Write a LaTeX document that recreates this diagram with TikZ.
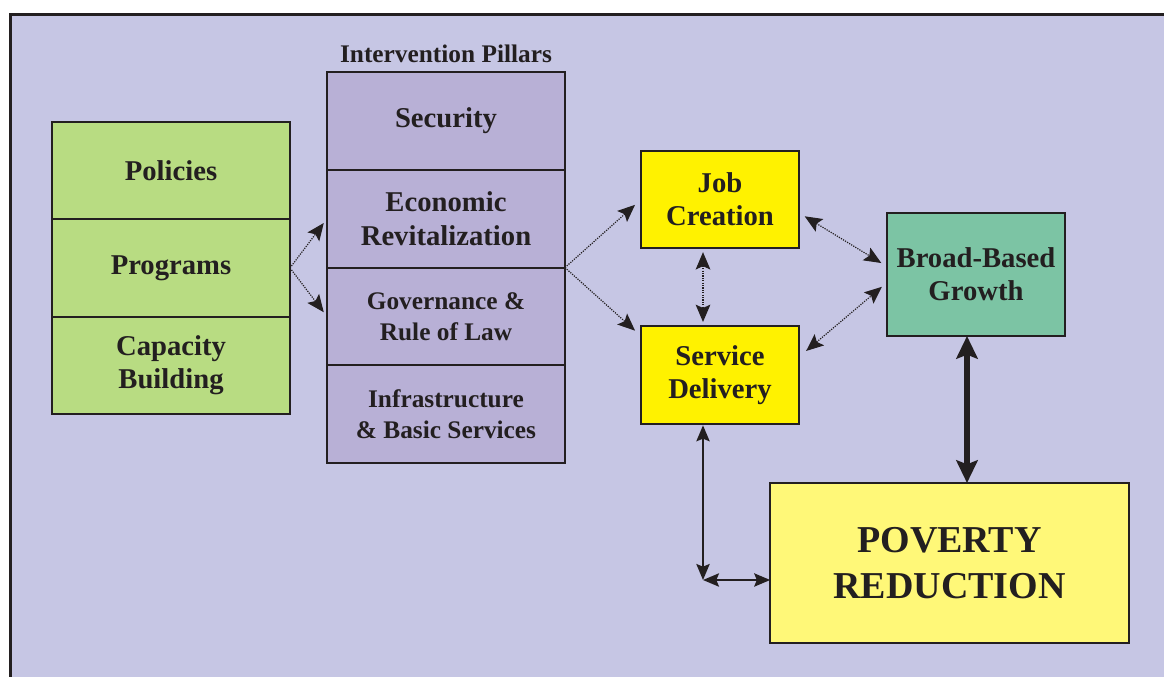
\documentclass[tikz,border=0pt]{standalone}
\usepackage{fontspec}
\setmainfont{Liberation Serif}
\usetikzlibrary{arrows.meta}
\usetikzlibrary{positioning}
\definecolor{ink}{RGB}{35,31,32}
\definecolor{bgcol}{RGB}{198,198,228}
\definecolor{greencol}{RGB}{184,220,130}
\definecolor{pillarcol}{RGB}{184,176,214}
\definecolor{yellowcol}{RGB}{255,242,0}
\definecolor{povcol}{RGB}{255,248,120}
\definecolor{growthcol}{RGB}{124,196,164}

\begin{document}
\begin{tikzpicture}[x=0.75pt,y=-0.75pt,
	every node/.style={align=center,text=ink},
	box/.style={draw=ink,line width=1.5pt,outer sep=0pt,inner sep=0pt},
	bigtext/.style={font=\bfseries\fontsize{21.5}{25}\selectfont},
	smalltext/.style={font=\bfseries\fontsize{19}{23.5}\selectfont},
	greencell/.style={box,bigtext,fill=greencol,minimum width=178.5pt,minimum height=73.1pt},
	pillarcell/.style={box,bigtext,fill=pillarcol,minimum width=178.5pt,minimum height=73.3pt},
	yellowbox/.style={box,bigtext,fill=yellowcol,minimum width=118.5pt,minimum height=73pt},
	dotarrow/.style={line width=0.9pt,draw=ink,dash pattern=on 0.9pt off 0.9pt,
		>={Stealth[length=13pt,width=11pt,inset=2.5pt]},<->},
	solidarrow/.style={line width=1.3pt,draw=ink,
		>={Stealth[length=12pt,width=10pt,inset=2pt]},<->},
	]
	\useasboundingbox (0,0) rectangle (1164,677);
	\clip (0,0) rectangle (1164,677);
	\draw[draw=ink,fill=bgcol,line width=2.25pt] (10.5,14.5) rectangle (1190,700);

	\node[greencell] (pol) at (171,170.5) {Policies};
	\node[greencell, below=0pt of pol] (prog) {Programs};
	\node[greencell, below=0pt of prog] (cap) {Capacity\\Building};

	\node[pillarcell] (sec) at (446,121) {Security};
	\node[pillarcell, below=0pt of sec] (econ) {Economic\\Revitalization};
	\node[pillarcell, smalltext, below=0pt of econ] (gov) {Governance \&\\Rule of Law};
	\node[pillarcell, smalltext, below=0pt of gov] (infra) {Infrastructure\\\& Basic Services};
	\node[smalltext, inner sep=0pt, above=7pt of sec] (pillars) {Intervention Pillars};

	\node[yellowbox] (job) at (720,199.5) {Job\\Creation};
	\node[yellowbox, minimum height=73.5pt] (serv) at (720,375) {Service\\Delivery};
	\node[box, bigtext, fill=growthcol, minimum width=133.5pt, minimum height=92.25pt] (bbg) at (976,274.5) {Broad-Based\\Growth};
	\node[box, fill=povcol, minimum width=269pt, minimum height=120pt,
		font=\bfseries\fontsize{28.5}{35}\selectfont] (pov) at (949.5,563) {POVERTY\\REDUCTION};

	\draw[dotarrow, ->, shorten >=4pt] (prog.east) -- (econ.west);
	\draw[dotarrow, ->, shorten >=4pt] (prog.east) -- (gov.west);
	\draw[dotarrow, ->, shorten >=6pt] (econ.south east) -- (job.west);
	\draw[dotarrow, ->, shorten >=6pt] (econ.south east) -- ([yshift=-7.5pt]serv.north west);
	\draw[dotarrow, shorten <=3pt, shorten >=3pt] ([xshift=-12.75pt]job.south) -- ([xshift=-12.75pt]serv.north);
	\draw[dotarrow, shorten <=5pt, shorten >=5pt] ([yshift=-10pt]job.east) -- ([yshift=6pt]bbg.west);
	\draw[dotarrow, shorten <=7pt, shorten >=5pt] ([yshift=13.5pt]serv.east) -- ([yshift=-6pt]bbg.west);

	\draw[line width=5pt, draw=ink, >={Stealth[length=17pt,width=16pt,inset=3pt]}, <->]
		([xshift=-6.75pt]bbg.south) -- ([xshift=-6.75pt]bbg.south |- pov.north);

	\coordinate (corner) at (703,580);
	\draw[solidarrow, shorten <=1pt] ([xshift=-12.75pt]serv.south) -- (corner);
	\draw[solidarrow] (corner) -- (pov.west |- corner);
\end{tikzpicture}
\end{document}
